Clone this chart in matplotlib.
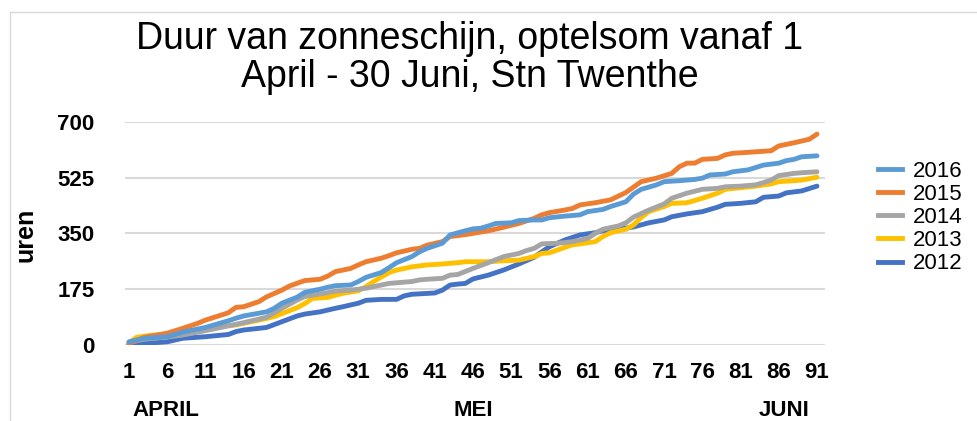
import matplotlib
matplotlib.use("Agg")
import matplotlib.pyplot as plt
from matplotlib.lines import Line2D
from matplotlib.transforms import blended_transform_factory

days_2016 = [1, 3, 6, 8, 11, 14, 15, 16, 19, 20, 21, 23, 24, 26, 27, 28, 30, 31, 32, 34, 35, 36, 38, 39, 40,
             42, 43, 45, 46, 47, 48, 49, 51, 52, 54, 55, 56, 58, 60, 61, 63, 64, 66, 67, 68, 70, 71, 73, 75,
             76, 77, 79, 80, 82, 84, 86, 87, 88, 89, 91]
uren_2016 = [10, 21, 26, 40, 55, 76, 84, 91, 104, 115, 131, 150, 165, 175, 181, 186, 188, 199, 212, 227, 242,
             258, 277, 292, 303, 319, 345, 358, 364, 366, 373, 381, 383, 390, 392, 392, 399, 404, 408, 418,
             425, 434, 449, 473, 488, 502, 512, 515, 519, 523, 533, 536, 543, 549, 564, 570, 578, 582, 590, 593]

days_2015 = [1, 3, 6, 8, 10, 11, 14, 15, 16, 18, 19, 21, 22, 24, 26, 27, 28, 30, 31, 32, 34, 35, 36, 38, 39,
             40, 42, 43, 45, 46, 48, 50, 52, 54, 55, 56, 58, 59, 60, 62, 64, 66, 67, 68, 70, 72, 73, 74, 75,
             76, 78, 79, 80, 82, 85, 86, 88, 90, 91]
uren_2015 = [5, 24, 37, 52, 68, 78, 101, 118, 120, 136, 151, 172, 185, 202, 206, 216, 230, 240, 251, 261, 272,
             280, 289, 300, 303, 313, 324, 340, 346, 350, 358, 369, 381, 397, 408, 415, 423, 428, 439, 446,
             455, 478, 495, 512, 523, 538, 559, 570, 570, 582, 585, 596, 601, 604, 609, 624, 634, 645, 661]

days_2014 = [1, 3, 6, 8, 11, 14, 16, 19, 21, 23, 24, 26, 27, 28, 30, 31, 32, 34, 35, 36, 38, 39, 40, 42, 43,
             44, 46, 48, 50, 52, 53, 54, 55, 57, 58, 59, 61, 62, 63, 65, 66, 67, 69, 71, 72, 74, 76, 78, 79,
             81, 83, 84, 85, 86, 88, 89, 91]
uren_2014 = [8, 18, 25, 31, 45, 60, 70, 87, 115, 141, 152, 160, 164, 169, 172, 175, 178, 188, 193, 195, 199,
             204, 206, 209, 219, 221, 240, 258, 277, 287, 296, 303, 317, 319, 321, 324, 334, 350, 363, 373,
             383, 401, 423, 442, 460, 476, 488, 491, 496, 498, 502, 509, 517, 531, 538, 540, 543]

days_2013 = [1, 2, 4, 7, 10, 12, 15, 18, 20, 23, 24, 25, 27, 28, 29, 31, 32, 33, 35, 36, 37, 38, 40, 42, 44,
             45, 48, 50, 52, 54, 55, 56, 58, 59, 60, 62, 63, 64, 66, 67, 68, 69, 71, 72, 74, 76, 78, 79, 81,
             83, 85, 86, 88, 89, 91]
uren_2013 = [7, 24, 31, 34, 49, 55, 63, 78, 89, 117, 130, 146, 149, 156, 162, 170, 183, 199, 227, 235, 240,
             245, 251, 254, 258, 261, 261, 264, 266, 277, 287, 289, 306, 314, 317, 324, 340, 352, 363, 376,
             400, 418, 434, 444, 446, 460, 476, 488, 493, 498, 505, 512, 515, 517, 526]

days_2012 = [1, 3, 6, 8, 11, 14, 15, 16, 19, 21, 23, 24, 26, 28, 29, 31, 32, 34, 36, 37, 38, 41, 42, 43, 44,
             45, 46, 48, 50, 52, 54, 55, 56, 58, 60, 62, 63, 65, 67, 69, 71, 72, 74, 76, 78, 79, 81, 83, 84,
             86, 87, 89, 91]
uren_2012 = [2, 5, 10, 21, 26, 33, 42, 47, 55, 73, 91, 97, 104, 115, 120, 131, 140, 143, 143, 154, 159, 163,
             172, 188, 191, 193, 207, 219, 235, 254, 275, 292, 308, 329, 345, 352, 358, 363, 370, 383, 392,
             402, 411, 418, 432, 441, 444, 449, 463, 467, 477, 483, 498]

years = ["2012", "2013", "2014", "2015", "2016"]
colors = ["#4472C4", "#FFC000", "#A5A5A5", "#ED7D31", "#5B9BD5"]
x_ticks = list(range(1, 92, 5))
y_ticks = [0, 175, 350, 525, 700]
months = ["APRIL", "MEI", "JUNI"]
month_pos = [5.8, 46.1, 86.7]

series = [(days_2012, uren_2012), (days_2013, uren_2013), (days_2014, uren_2014),
          (days_2015, uren_2015), (days_2016, uren_2016)]

plt.rcParams['font.family'] = ['Liberation Sans', 'DejaVu Sans']

fig = plt.figure(figsize=(9.78, 4.21), dpi=100)
ax = fig.add_axes([125 / 978, 1 - 345 / 421, 700 / 978, 223.3 / 421])

# 2016 als laatste tekenen, die ligt bovenop
for (d, u), year, c in zip(series, years, colors):
    ax.plot(d, u, color=c, lw=3.5, solid_capstyle='round', solid_joinstyle='round', label=year)

ax.set_xlim(0.48, 92.05)
ax.set_ylim(0, 700)
ax.set_xticks(x_ticks)
ax.set_yticks(y_ticks)
ax.tick_params(length=0, labelsize=16)
ax.tick_params(axis='x', pad=12)
ax.tick_params(axis='y', pad=22)
for lab in ax.get_xticklabels() + ax.get_yticklabels():
    lab.set_fontweight('bold')
ax.grid(axis='y', color='#D9D9D9', lw=1.5)
ax.set_axisbelow(True)
for s in ax.spines.values():
    s.set_visible(False)

fig.text(26 / 978, 1 - 235 / 421, 'uren', rotation=90, ha='center', va='center',
         fontsize=18, fontweight='bold')

# maandnamen onder de dagnummers
month_tr = blended_transform_factory(ax.transData, fig.transFigure)
for m, p in zip(months, month_pos):
    ax.text(p, 1 - 410 / 421, m, transform=month_tr, ha='center', va='center',
            fontsize=16, fontweight='bold')

fig.text(470 / 978, 1 - 58 / 421, "Duur van zonneschijn, optelsom vanaf 1\nApril - 30 Juni, Stn Twenthe",
         ha='center', va='center', fontsize=27, linespacing=1.05)

handles = [Line2D([], [], color=c, lw=3.5) for c in colors][::-1]
fig.legend(handles, years[::-1], loc='center left', bbox_to_anchor=(878 / 978, 1 - 217.5 / 421),
           bbox_transform=fig.transFigure, frameon=False, fontsize=16, handlelength=1.1,
           handletextpad=0.45, labelspacing=0.1, borderpad=0, borderaxespad=0)

# lichte rand van het grafiekvak
fig.add_artist(Line2D([10 / 978, 10 / 978], [0, 1 - 12 / 421], color='#D9D9D9', lw=1,
                      transform=fig.transFigure))
fig.add_artist(Line2D([10 / 978, 1], [1 - 12 / 421, 1 - 12 / 421], color='#D9D9D9', lw=1,
                      transform=fig.transFigure))

fig.savefig("out.png", dpi=100)
